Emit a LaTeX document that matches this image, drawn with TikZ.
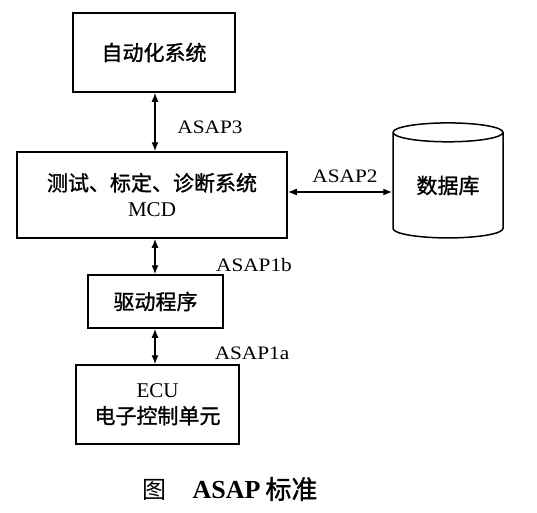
\documentclass[tikz,border=0pt]{standalone}
\usepackage{fontspec}
\setmainfont{Liberation Serif}
\newfontfamily\cjk[FakeBold=1.2]{Noto Sans CJK SC}
\newfontfamily\cjklight{Noto Sans CJK SC}
\newfontfamily\lblfont[FakeStretch=1.12]{Liberation Serif}
\usetikzlibrary{shapes.geometric,arrows.meta,positioning}

\begin{document}
\begin{tikzpicture}[x=1pt,y=-1pt,
    box/.style={draw,line width=1.5pt,inner sep=0pt,align=center,
      font=\fontsize{21}{26}\selectfont},
    link/.style={{Latex[length=9pt,width=7pt]}-{Latex[length=9pt,width=7pt]},line width=1.3pt},
    asap/.style={font=\lblfont\fontsize{19}{22}\selectfont}]
  \useasboundingbox (0,0) rectangle (537,512);

  % boxes
  \node[box,minimum width=162pt,minimum height=79pt] (auto) at (154,52.5) {\cjk 自动化系统};
  \node[box,minimum width=270pt,minimum height=86pt] (mcd) at (152,195)
    {{\cjk 测试、标定、诊断系统}\\\rmfamily MCD};
  \node[draw,line width=1.5pt,cylinder,shape border rotate=90,aspect=0.3,
    minimum width=110pt,minimum height=115pt,inner sep=0pt] (db) at (448,185.5)
    {\cjk\fontsize{21}{26}\selectfont 数据库};
  \node[box,minimum width=135pt,minimum height=53pt] (drv) at (155.5,301.5) {\cjk 驱动程序};
  \node[box,minimum width=163pt,minimum height=79pt] (ecu) at (157.5,404.5)
    {ECU\\{\cjk 电子控制单元}};

  % connectors
  \coordinate (ax) at (155,0);
  \draw[link] (ax |- auto.south) -- (ax |- mcd.north);
  \draw[link] (ax |- mcd.south) -- (ax |- drv.north);
  \draw[link] (ax |- drv.south) -- (ax |- ecu.north);
  \draw[link] ([yshift=3pt]mcd.east) -- ([yshift=3pt]mcd.east -| db.west);

  % labels
  \node[asap] (l3) at (210,127) {ASAP3};
  \node[asap] (l2) at (345,176) {ASAP2};
  \node[asap] (l1b) at (254,265) {ASAP1b};
  \node[asap] (l1a) at (252,353) {ASAP1a};

  % caption
  \node (cap) at (230,489) {{\cjklight\fontsize{24}{28}\selectfont 图}\hspace{26pt}%
    {\fontsize{26}{30}\selectfont\bfseries ASAP}\hspace{5pt}{\cjk\fontsize{26}{30}\selectfont 标准}};
\end{tikzpicture}
\end{document}
